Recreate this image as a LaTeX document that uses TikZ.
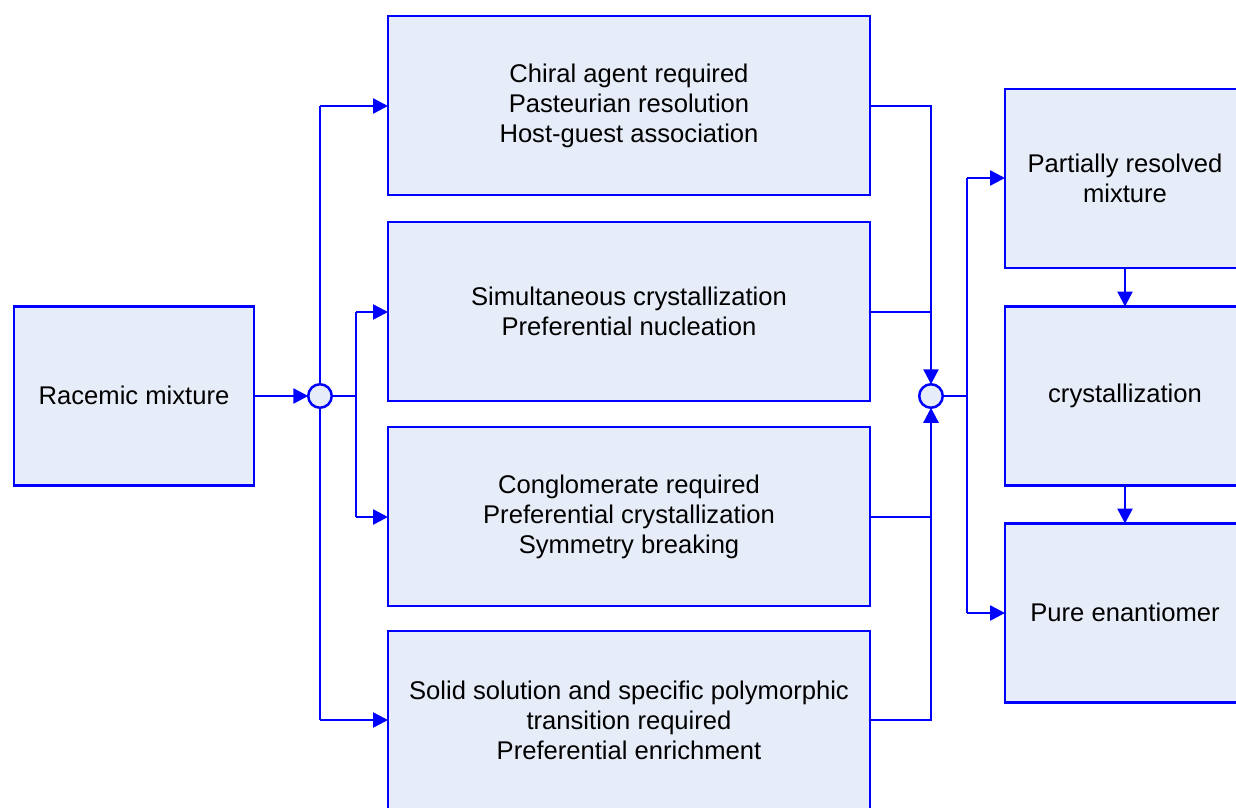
\documentclass[tikz,border=0pt]{standalone}
\usepackage{fontspec}
\setmainfont{Liberation Sans}
\usetikzlibrary{arrows.meta}
\definecolor{boxfill}{RGB}{230,236,248}
\definecolor{lineblue}{RGB}{0,0,255}
\begin{document}
\begin{tikzpicture}[x=1pt,y=-1pt,
  stage/.style={draw=lineblue,fill=boxfill,line width=2.5pt,inner sep=0pt,outer sep=0pt,
    align=center,minimum height=179pt,font=\fontsize{25.6}{30}\selectfont},
  wide/.style={stage,minimum width=482pt},
  narrow/.style={stage,minimum width=240pt},
  junction/.style={circle,draw=lineblue,fill=boxfill,line width=2.5pt,minimum size=23.5pt,inner sep=0pt,outer sep=0pt},
  link/.style={draw=lineblue,line width=2.5pt},
  arr/.style={link,-{Triangle[length=15pt,width=15pt]}}]
\useasboundingbox (0,0) rectangle (1236,807);
\clip (0,0) rectangle (1236,807);

% source
\node[narrow] (race) at (134,396) {\raisebox{1.5pt}{Racemic mixture}};

% resolution routes
\node[wide] (b1) at (629,105.5) {Chiral agent required\\Pasteurian resolution\\Host-guest association};
\node[wide] (b2) at (629,311.5) {Simultaneous crystallization\\Preferential nucleation};
\node[wide] (b3) at (629,516.5) {Conglomerate required\\Preferential crystallization\\Symmetry breaking};
\node[wide] (b4) at (629,720.5) {Solid solution and specific polymorphic\\transition required\\Preferential enrichment};

% outcomes
\node[narrow] (r1) at (1125,178.5) {Partially resolved\\mixture};
\node[narrow] (r2) at (1125,396) {crystallization};
\node[narrow] (r3) at (1125,613) {\raisebox{1pt}{Pure enantiomer}};

% junctions
\node[junction] (j1) at (320,396) {};
\node[junction] (j2) at (931,396) {};
\coordinate (s1) at (356,396);
\coordinate (s2) at (967,396);
\coordinate (t1) at (320,106);
\coordinate (t4) at (320,720);
\coordinate (u2) at (356,312);
\coordinate (u3) at (356,517);
\coordinate (v1) at (967,178);
\coordinate (v3) at (967,613);

% splitting side
\draw[arr] (race.east |- j1) -- (j1);
\draw[link] (j1.north) -- (t1);
\draw[arr] (t1) -- (t1 -| b1.west);
\draw[link] (j1.south) -- (t4);
\draw[arr] (t4) -- (t4 -| b4.west);
\draw[link] (j1.east) -- (s1);
\draw[link] (u2) -- (u3);
\draw[arr] (u2) -- (u2 -| b2.west);
\draw[arr] (u3) -- (u3 -| b3.west);

% merging side
\draw[arr] (t1 -| b1.east) -| (j2.north);
\draw[arr] (t4 -| b4.east) -| (j2.south);
\draw[link] (u2 -| b2.east) -- (u2 -| j2.center);
\draw[link] (u3 -| b3.east) -- (u3 -| j2.center);
\draw[link] (j2.east) -- (s2);
\draw[link] (v1) -- (v3);
\draw[arr] (v1) -- (v1 -| r1.west);
\draw[arr] (v3) -- (v3 -| r3.west);
\draw[arr] (r1) -- (r2);
\draw[arr] (r2) -- (r3);
\end{tikzpicture}
\end{document}
